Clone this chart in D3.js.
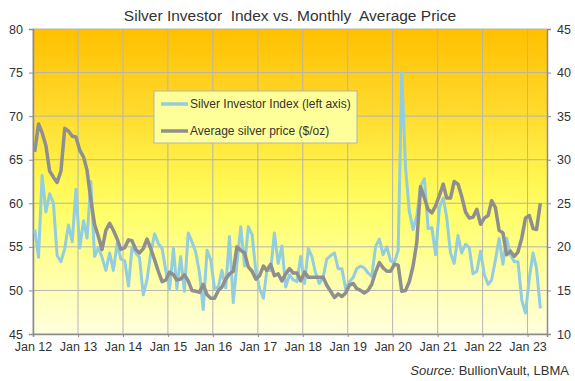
<!DOCTYPE html>
<html>
<head>
<meta charset="utf-8">
<script src="https://cdn.jsdelivr.net/npm/d3@7/dist/d3.min.js"></script>
<style>
  body { margin: 0; background: #fff; }
  svg text { font-family: Arial, "Liberation Sans", sans-serif; fill: #333; }
</style>
</head>
<body>
<svg id="chart" width="575" height="381"></svg>
<script>
// monthly values, Jan 2012 .. Apr 2023
const startYear = 2012;
const investorIndex = [
  57.0, 53.8, 63.2, 59.0, 61.1, 60.0, 54.0, 53.3, 54.8, 57.5, 55.6, 61.6,
  54.9, 58.0, 56.0, 62.5, 53.9, 54.9, 53.8, 52.3, 54.3, 52.3, 55.4, 53.6,
  53.4, 50.5, 54.9, 54.3, 53.8, 49.5, 51.2, 54.3, 56.5, 55.4, 54.8, 52.3,
  50.2, 54.8, 50.2, 53.9, 49.9, 56.6, 55.6, 54.4, 52.0, 47.8, 54.6, 53.5,
  50.2, 50.4, 52.3, 50.3, 56.2, 48.6, 53.1, 57.3, 52.8, 57.3, 56.4, 52.3,
  50.2, 49.1, 52.3, 52.3, 56.6, 53.1, 55.1, 50.4, 51.8, 51.2, 51.0, 53.9,
  50.8, 54.8, 53.9, 52.0, 50.8, 51.5, 53.6, 54.0, 54.3, 52.5, 52.5, 50.2,
  51.0, 51.5, 52.5, 52.8, 52.6, 52.0, 51.6, 55.0, 55.9, 54.1, 55.0, 53.4,
  53.2, 54.6, 75.0, 64.0, 59.1, 57.0, 58.5, 62.0, 62.8, 57.1, 57.2, 54.1,
  59.5, 60.6, 58.4, 54.3, 53.1, 56.3, 54.3, 55.3, 54.9, 51.9, 52.2, 54.5,
  51.8, 50.7, 51.2, 53.5, 56.0, 53.0, 56.0, 54.1, 53.3, 53.3, 48.9, 47.4,
  51.4, 54.3, 52.5, 47.95
];
const silverPrice = [
  30.9, 34.1, 33.1, 31.6, 28.7, 28.0, 27.4, 28.7, 33.6, 33.3, 32.7, 32.6,
  31.1, 30.3, 28.8, 25.4, 22.6, 21.2, 19.7, 21.9, 22.7, 21.9, 20.9, 19.7,
  19.9, 20.8, 20.7, 19.7, 19.3, 19.8, 20.9, 19.8, 18.5, 17.2, 16.0, 16.2,
  17.1, 16.8, 16.2, 16.3, 16.8, 16.1, 15.0, 14.9, 14.8, 15.7, 14.5, 14.1,
  14.1, 15.0, 15.4, 16.3, 16.9, 17.2, 20.0, 19.6, 19.3, 17.7, 17.2, 16.3,
  16.7, 17.8, 17.3, 18.0, 16.7, 16.9, 16.1, 16.9, 17.5, 17.0, 17.0, 16.1,
  17.1, 16.5, 16.5, 16.5, 16.5, 16.5, 15.6, 14.9, 14.2, 14.6, 14.3, 14.7,
  15.6, 15.8, 15.2, 15.0, 14.7, 15.0, 15.7, 17.1, 18.2, 17.6, 17.2, 17.2,
  18.0, 17.9, 14.9, 15.0, 16.0, 17.8, 20.5, 26.9, 25.6, 24.3, 23.9, 24.7,
  25.9, 27.2, 25.6, 25.6, 27.5, 27.2, 25.8, 24.0, 23.3, 23.4, 24.3, 22.6,
  23.3, 23.6, 25.3, 24.5, 21.9, 21.6, 19.1, 19.5, 18.9, 19.4, 21.0, 23.3,
  23.6, 22.1, 22.0, 25.0
];
const leftTicks = [45, 50, 55, 60, 65, 70, 75, 80];
const rightTicks = [10, 15, 20, 25, 30, 35, 40, 45];
const seriesNames = ["Silver Investor Index (left axis)", "Average silver price ($/oz)"];

const dates = investorIndex.map((d, i) => new Date(startYear, i, 15));

const margin = { top: 29, right: 28, bottom: 47, left: 33 };
const width = 575 - margin.left - margin.right;
const height = 381 - margin.top - margin.bottom;

const svg = d3.select("#chart");

// background gradient
const defs = svg.append("defs");
const grad = defs.append("linearGradient")
  .attr("id", "bg")
  .attr("x1", 0).attr("y1", 0).attr("x2", 0).attr("y2", 1);
[["0%", "#FFC000"], ["25%", "#FFD82A"], ["50%", "#FFF752"], ["62%", "#FFFF6E"], ["82%", "#FFFFAA"], ["100%", "#FFFFE0"]]
  .forEach(s => grad.append("stop").attr("offset", s[0]).attr("stop-color", s[1]));

const g = svg.append("g").attr("transform", `translate(${margin.left},${margin.top})`);

const x = d3.scaleTime()
  .domain([new Date(2012, 0, 1), new Date(2023, 5, 8)])
  .range([0, width]);
const yLeft = d3.scaleLinear().domain([45, 80]).range([height, 0]);
const yRight = d3.scaleLinear().domain([10, 45]).range([height, 0]);

g.append("rect")
  .attr("width", width)
  .attr("height", height)
  .attr("fill", "url(#bg)");

// grid
const yearTicks = d3.range(2012, 2024).map(y => new Date(y, 0, 1));
g.append("g")
  .selectAll("line")
  .data(yearTicks)
  .enter()
  .append("line")
  .attr("x1", d => x(d)).attr("x2", d => x(d))
  .attr("y1", 0).attr("y2", height)
  .attr("stroke", "#b4b4b4");
g.append("g")
  .selectAll("line")
  .data(leftTicks)
  .enter()
  .append("line")
  .attr("x1", 0).attr("x2", width)
  .attr("y1", d => yLeft(d)).attr("y2", d => yLeft(d))
  .attr("stroke", "#b4b4b4");

// axes
const xAxis = g.append("g")
  .attr("transform", `translate(0,${height})`)
  .call(d3.axisBottom(x).tickValues(yearTicks).tickFormat(d3.timeFormat("Jan %y")).tickSize(3).tickPadding(5));
const leftAxis = g.append("g")
  .call(d3.axisLeft(yLeft).tickValues(leftTicks).tickSize(4).tickPadding(6));
const rightAxis = g.append("g")
  .attr("transform", `translate(${width},0)`)
  .call(d3.axisRight(yRight).tickValues(rightTicks).tickSize(4).tickPadding(6));

[xAxis, leftAxis, rightAxis].forEach(a => {
  a.select(".domain").attr("stroke", "#8c8c8c").attr("stroke-width", 1.5);
  a.selectAll(".tick line").attr("stroke", "#8c8c8c");
  a.selectAll("text").style("font-size", "12.5px").attr("fill", "#333");
});

// lines
const lineLeft = d3.line()
  .x((d, i) => x(dates[i]))
  .y(d => yLeft(d));
const lineRight = d3.line()
  .x((d, i) => x(dates[i]))
  .y(d => yRight(d));

g.append("path")
  .datum(investorIndex)
  .attr("fill", "none")
  .attr("stroke", "#92cde0")
  .attr("stroke-width", 3)
  .attr("stroke-linejoin", "round")
  .attr("d", lineLeft);

g.append("path")
  .datum(silverPrice)
  .attr("fill", "none")
  .attr("stroke", "#8f8f8f")
  .attr("stroke-width", 3.5)
  .attr("stroke-linejoin", "round")
  .attr("d", lineRight);

// legend
const legend = svg.append("g").attr("transform", "translate(154,91)");
legend.append("rect")
  .attr("width", 203)
  .attr("height", 52)
  .attr("fill", "#ffff99")
  .attr("stroke", "#b4b4b4");
const legendColors = ["#92cde0", "#8f8f8f"];
seriesNames.forEach((name, i) => {
  const row = legend.append("g").attr("transform", `translate(0,${13 + i * 27})`);
  row.append("line")
    .attr("x1", 7).attr("x2", 34)
    .attr("stroke", legendColors[i])
    .attr("stroke-width", 3.5);
  row.append("text")
    .attr("x", 36)
    .attr("y", 4)
    .style("font-size", "12px")
    .text(name);
});

// title
svg.append("text")
  .attr("x", margin.left + width / 2)
  .attr("y", 21)
  .attr("text-anchor", "middle")
  .style("font-size", "15.5px")
  .style("white-space", "pre")
  .text("Silver Investor  Index vs. Monthly  Average Price");

// source
const src = svg.append("text")
  .attr("x", 569)
  .attr("y", 375)
  .attr("text-anchor", "end")
  .style("font-size", "13px");
src.append("tspan").style("font-style", "italic").text("Source:");
src.append("tspan").text(" BullionVault, LBMA");
</script>
</body>
</html>
